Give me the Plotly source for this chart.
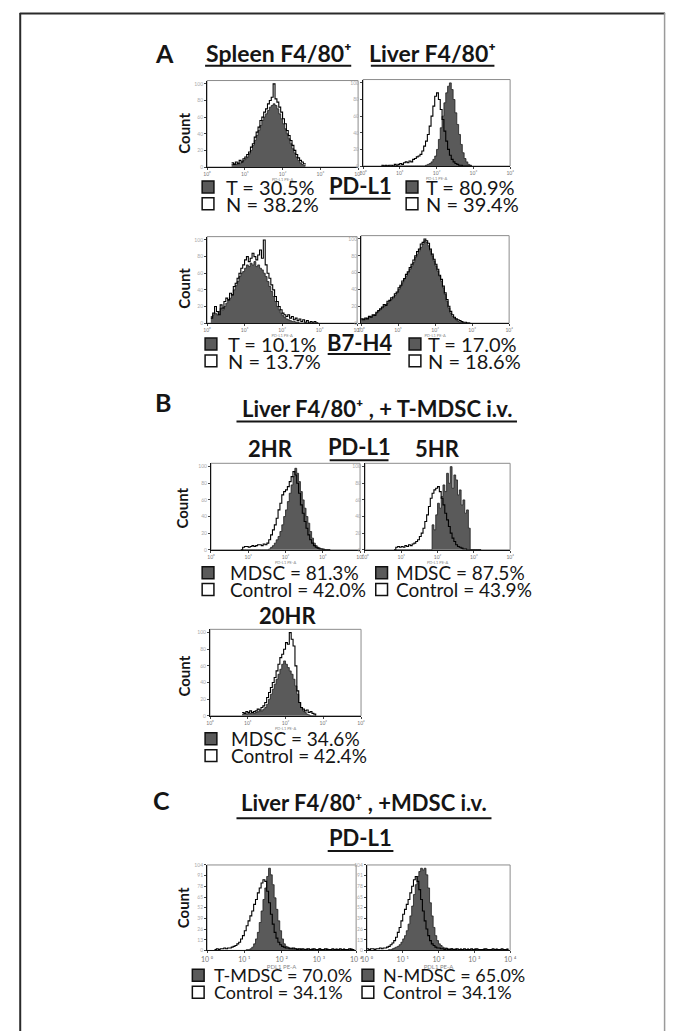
import plotly.graph_objects as go

W, H = 676, 1031
BIN = 0.05  # histogram channel width, log10 units

# ---------------- data (log10 fluorescence channels, counts) ----------------
# Panel A, PD-L1, spleen
A_SPL_PDL1_START = 0.65
A_SPL_PDL1_T = [3, 4, 3, 5, 4, 6, 8, 10, 12, 16,
                20, 26, 32, 38, 44, 50, 56, 60, 64, 68,
                72, 74, 76, 74, 70, 64, 58, 52, 46, 40,
                34, 28, 22, 17, 12, 8, 5, 3, 2, 1]
A_SPL_PDL1_N = [5, 3, 6, 4, 8, 6, 10, 12, 15, 18,
                24, 28, 36, 42, 48, 56, 60, 66, 70, 76,
                80, 84, 100, 82, 78, 72, 66, 58, 52, 44,
                38, 32, 26, 20, 15, 11, 8, 6, 4, 3]
# Panel A, PD-L1, liver
A_LIV_PDL1_START = 0.5
A_LIV_PDL1_T = [0, 0, 0, 0, 0, 0, 0, 0, 0, 0,
                0, 0, 0, 0, 0, 0, 0, 0, 0, 0,
                0, 0, 0, 0, 1, 2, 3, 5, 8, 12,
                20, 32, 46, 60, 76, 88, 96, 100, 92, 80,
                64, 50, 38, 26, 16, 9, 5, 2, 1, 0]
A_LIV_PDL1_N = [1, 0, 1, 0, 1, 1, 0, 2, 1, 2,
                3, 2, 4, 5, 4, 6, 5, 8, 9, 11,
                12, 14, 18, 24, 30, 38, 48, 60, 72, 84,
                88, 80, 68, 56, 42, 30, 20, 13, 8, 5,
                3, 2, 1, 1, 0, 0, 0, 0, 0, 0]
# Panel A, B7-H4, spleen
A_SPL_B7H4_START = 0.1
A_SPL_B7H4_T = [8, 10, 12, 10, 14, 18, 16, 20, 24, 28,
                30, 34, 40, 45, 50, 56, 60, 62, 66, 70,
                68, 72, 70, 74, 68, 70, 66, 64, 60, 56,
                50, 44, 38, 32, 26, 20, 16, 12, 9, 7,
                5, 4, 3, 2, 2, 1, 1, 0, 0, 0,
                0, 0, 0, 0, 0, 0, 0, 0]
A_SPL_B7H4_N = [6, 12, 20, 14, 10, 22, 18, 26, 30, 28,
                36, 34, 44, 48, 54, 60, 66, 70, 76, 80,
                74, 78, 84, 80, 76, 82, 88, 78, 100, 70,
                60, 54, 46, 40, 32, 26, 20, 16, 12, 10,
                8, 10, 6, 8, 4, 6, 3, 5, 2, 4,
                1, 3, 0, 2, 0, 2, 0, 1]
# Panel A, B7-H4, liver
A_LIV_B7H4_START = 0.0
A_LIV_B7H4_T = [4, 5, 5, 6, 7, 8, 9, 10, 12, 14,
                16, 18, 20, 22, 24, 26, 28, 30, 33, 36,
                40, 44, 48, 52, 56, 60, 64, 68, 72, 78,
                82, 86, 90, 94, 98, 96, 92, 86, 80, 74,
                68, 62, 56, 50, 42, 34, 26, 18, 12, 8,
                6, 4, 2, 1, 1, 0, 0, 0, 0, 0]
A_LIV_B7H4_N = [5, 4, 6, 5, 8, 7, 10, 9, 13, 15,
                17, 19, 22, 21, 26, 27, 30, 31, 35, 37,
                42, 45, 50, 53, 58, 61, 66, 70, 75, 80,
                85, 88, 94, 96, 100, 98, 95, 88, 82, 76,
                70, 64, 57, 52, 44, 36, 28, 20, 14, 10,
                7, 5, 4, 3, 2, 1, 1, 0, 0, 0]
# Panel B, PD-L1 after T-MDSC i.v.
B_2HR_START = 0.8
B_2HR_MDSC = [0, 0, 0, 0, 0, 0, 0, 0, 0, 0,
              0, 0, 0, 0, 0, 1, 3, 5, 8, 12,
              16, 22, 30, 40, 48, 58, 68, 78, 88, 98,
              92, 82, 70, 60, 50, 40, 32, 22, 14, 8,
              5, 3, 2, 1, 1, 0, 0, 0, 0]
B_2HR_CTRL = [0, 3, 4, 4, 3, 4, 5, 4, 5, 6,
              6, 5, 7, 6, 8, 12, 18, 24, 30, 38,
              48, 56, 66, 70, 72, 76, 82, 88, 94, 90,
              80, 68, 54, 44, 34, 26, 18, 12, 8, 5,
              3, 2, 1, 1, 0, 0, 0, 0, 0]
B_5HR_START = 0.8
B_5HR_MDSC = [0, 0, 0, 0, 0, 0, 0, 0, 0, 0,
              0, 0, 0, 0, 0, 0, 0, 0, 0, 0,
              0, 30, 24, 42, 56, 50, 64, 78, 70, 92,
              80, 100, 74, 90, 84, 66, 72, 54, 60, 44,
              48, 26, 0, 0, 0, 0, 0, 0, 0]
B_5HR_CTRL = [0, 3, 4, 3, 4, 3, 5, 4, 6, 5,
              7, 8, 10, 12, 16, 20, 26, 34, 42, 52,
              62, 68, 72, 74, 76, 70, 62, 54, 44, 36,
              28, 20, 14, 10, 6, 4, 3, 2, 1, 1,
              0, 0, 0, 0, 0, 0, 0, 0, 0]
B_20HR_START = 0.85
B_20HR_MDSC = [2, 3, 2, 3, 3, 4, 3, 4, 5, 6,
               6, 8, 10, 14, 20, 26, 32, 38, 44, 50,
               56, 62, 66, 62, 58, 54, 50, 44, 36, 26,
               16, 10, 6, 4, 2, 1, 0, 0, 0, 0]
B_20HR_CTRL = [4, 3, 5, 4, 6, 4, 5, 6, 8, 7,
               10, 12, 16, 22, 28, 34, 40, 46, 54, 62,
               70, 74, 80, 88, 86, 100, 92, 84, 60, 30,
               16, 10, 8, 6, 7, 4, 5, 3, 2, 0]
# Panel C, PD-L1 after MDSC i.v.
C_T_START = 0.2
C_T_MDSC = [0, 0, 0, 0, 0, 0, 0, 0, 0, 0,
            0, 0, 0, 0, 0, 0, 0, 1, 1, 2,
            4, 8, 14, 22, 34, 48, 62, 76, 90, 100,
            92, 80, 64, 50, 36, 24, 14, 8, 5, 4,
            3, 3, 2, 2, 2, 1, 2, 1, 1, 2,
            1, 1, 2, 1, 1, 1, 2, 1, 1, 1,
            2, 1, 1, 1, 1, 2, 1, 1, 1, 2,
            1, 1, 1, 2, 1, 1]
C_T_CTRL = [1, 2, 1, 2, 2, 3, 2, 3, 3, 4,
            5, 6, 8, 10, 14, 18, 24, 30, 36, 42,
            48, 56, 62, 70, 76, 82, 86, 84, 72, 58,
            44, 32, 22, 15, 10, 7, 5, 4, 3, 3,
            2, 2, 3, 2, 1, 2, 1, 2, 1, 1,
            2, 1, 1, 2, 1, 1, 2, 1, 1, 2,
            1, 1, 1, 2, 1, 1, 1, 2, 1, 1,
            1, 1, 2, 1, 1, 1]
C_N_START = 0.0
C_N_MDSC = [0, 0, 0, 0, 0, 0, 0, 0, 0, 0,
            0, 0, 1, 1, 2, 3, 4, 5, 7, 10,
            14, 18, 24, 32, 42, 54, 68, 80, 90, 96,
            100, 98, 100, 92, 76, 58, 42, 28, 18, 12,
            8, 6, 4, 3, 3, 2, 2, 2, 1, 2,
            1, 1, 2, 1, 1, 1, 2, 1, 1, 1,
            2, 1, 1, 1, 1, 2, 1, 1, 1, 1,
            1, 1, 2, 1, 1, 1, 1, 1, 2, 1]
C_N_CTRL = [2, 1, 2, 2, 1, 2, 2, 3, 2, 3,
            3, 4, 5, 7, 9, 12, 16, 22, 28, 36,
            44, 50, 56, 62, 70, 78, 86, 90, 84, 74,
            62, 48, 36, 26, 18, 12, 8, 6, 4, 3,
            3, 2, 2, 1, 2, 1, 1, 2, 1, 1,
            2, 1, 1, 1, 2, 1, 1, 1, 2, 1,
            1, 2, 1, 1, 1, 1, 2, 1, 1, 1,
            2, 1, 1, 1, 1, 2, 1, 1, 1, 1]

DECADES = [0, 1, 2, 3, 4]
DECADE_LABELS_SMALL = ["10⁰", "10¹", "10²", "10³", "10⁴"]
DECADE_LABELS_C = ["10 ⁰", "10 ¹", "10 ²", "10 ³", "10 ⁴"]
Y_TICKS = [0, 20, 40, 60, 80, 100]
Y_TICKS_C = [0, 13, 26, 39, 52, 65, 78, 91, 104]

LEGEND_TEXTS = {
    "p1": ("T = 30.5%", "N = 38.2%"),
    "p2": ("T = 80.9%", "N = 39.4%"),
    "p3": ("T = 10.1%", "N = 13.7%"),
    "p4": ("T = 17.0%", "N = 18.6%"),
    "p5": ("MDSC = 81.3%", "Control = 42.0%"),
    "p6": ("MDSC = 87.5%", "Control = 43.9%"),
    "p7": ("MDSC = 34.6%", "Control = 42.4%"),
    "p8": ("T-MDSC = 70.0%", "Control = 34.1%"),
    "p9": ("N-MDSC = 65.0%", "Control = 34.1%"),
}

# ---------------- layout geometry (pixels) ----------------
def px(x):
    return x / W


def py(y):
    return 1 - y / H


FONT = "Lato"
GREY_FILL = "#5a5a5a"

# key, plot box (x0,x1,y0,y1), start, filled, outline, style,
# legend square x, legend text x, legend row y1, row y2, legend font size
PANELS = [
    ("p1", (205, 359, 78, 165), A_SPL_PDL1_START, A_SPL_PDL1_T, A_SPL_PDL1_N, "s", 200, 222, 185, 202, 20),
    ("p2", (364, 514, 77, 164), A_LIV_PDL1_START, A_LIV_PDL1_T, A_LIV_PDL1_N, "s", 408, 426, 185, 202, 20),
    ("p3", (205, 358, 235, 322), A_SPL_B7H4_START, A_SPL_B7H4_T, A_SPL_B7H4_N, "s", 203, 224, 343, 360, 20),
    ("p4", (362, 513, 234, 322), A_LIV_B7H4_START, A_LIV_B7H4_T, A_LIV_B7H4_N, "s", 411, 428, 343, 360, 20),
    ("p5", (209, 361, 463, 550), B_2HR_START, B_2HR_MDSC, B_2HR_CTRL, "s", 200, 226, 573, 590, 19),
    ("p6", (366, 514, 463, 550), B_5HR_START, B_5HR_MDSC, B_5HR_CTRL, "s", 377, 396, 573, 590, 19),
    ("p7", (208, 362, 630, 717), B_20HR_START, B_20HR_MDSC, B_20HR_CTRL, "s", 203, 227, 740, 757, 19),
    ("p8", (205, 357, 867, 953), C_T_START, C_T_MDSC, C_T_CTRL, "c", 190, 210, 978, 995, 18),
    ("p9", (368, 514, 867, 953), C_N_START, C_N_MDSC, C_N_CTRL, "c", 363, 382, 978, 995, 18),
]

fig = go.Figure()
annotations = []
shapes = []
layout_axes = {}


def ann(text, x, y, size, bold=False, xanchor="center", angle=0, color="#151515"):
    if bold:
        text = "<b>" + text + "</b>"
    annotations.append(dict(
        text=text, x=px(x), y=py(y), xref="paper", yref="paper",
        xanchor=xanchor, yanchor="middle", showarrow=False, textangle=angle,
        font=dict(family=FONT, size=size, color=color)))


def underline(x0, x1, y):
    shapes.append(dict(type="line", xref="paper", yref="paper",
                       x0=px(x0), x1=px(x1), y0=py(y), y1=py(y),
                       line=dict(color="#151515", width=2)))


for i, (key, box, start, filled, outline, style, sqx, tx, ly1, ly2, lfs) in enumerate(PANELS, start=1):
    xs_f = [start + k * BIN for k in range(len(filled))]
    xs_o = [start + k * BIN for k in range(len(outline))]
    xa = "x" if i == 1 else f"x{i}"
    ya = "y" if i == 1 else f"y{i}"
    fig.add_trace(go.Scatter(
        x=xs_f, y=filled, xaxis=xa, yaxis=ya, mode="lines",
        line=dict(shape="hv", color="#1e1e1e", width=0.8),
        fill="tozeroy", fillcolor=GREY_FILL, hoverinfo="skip", showlegend=False))
    fig.add_trace(go.Scatter(
        x=xs_o, y=outline, xaxis=xa, yaxis=ya, mode="lines",
        line=dict(shape="hv", color="#000000", width=1.1),
        hoverinfo="skip", showlegend=False))

    x0, x1, y0, y1 = box
    if style == "c":
        ticktext, tfs, xtitle, ttfs, yticks, yfs = DECADE_LABELS_C, 7, "PDL1 PE-A", 6, Y_TICKS_C, 5
    else:
        ticktext, tfs, xtitle, ttfs, yticks, yfs = DECADE_LABELS_SMALL, 5, "PD-L1 PE-A", 4, Y_TICKS, 5
    layout_axes["xaxis" if i == 1 else f"xaxis{i}"] = dict(
        domain=[px(x0), px(x1)], range=[0, 4], anchor=ya,
        showline=True, linecolor="#111", linewidth=1, mirror=False,
        showgrid=False, zeroline=False, ticks="outside", ticklen=2,
        tickwidth=0.6, tickcolor="#444", tickvals=DECADES, ticktext=ticktext,
        tickfont=dict(family=FONT, size=tfs, color="#777"),
        title=dict(text=xtitle, font=dict(family=FONT, size=ttfs, color="#888"), standoff=1),
        fixedrange=True)
    layout_axes["yaxis" if i == 1 else f"yaxis{i}"] = dict(
        domain=[py(y1), py(y0)], range=[0, 104], anchor=xa,
        showline=True, linecolor="#111", linewidth=1, mirror=False,
        showgrid=False, zeroline=False, ticks="outside", ticklen=2,
        tickwidth=0.6, tickcolor="#444", tickvals=yticks,
        tickfont=dict(family=FONT, size=yfs, color="#aaa"), fixedrange=True)
    shapes.append(dict(type="rect", xref=f"{xa} domain", yref=f"{ya} domain",
                       x0=0, x1=1, y0=0, y1=1, layer="below",
                       line=dict(color="#8c8c8c", width=1)))

    # legend squares
    for (ly, fillc) in ((ly1, GREY_FILL), (ly2, "#ffffff")):
        shapes.append(dict(type="rect", xref="paper", yref="paper",
                           x0=px(sqx), x1=px(sqx + 12), y0=py(ly + 6), y1=py(ly - 6),
                           fillcolor=fillc, line=dict(color="#111", width=1.5)))
    t1, t2 = LEGEND_TEXTS[key]
    ann(t1, tx, ly1, lfs, xanchor="left")
    ann(t2, tx, ly2, lfs, xanchor="left")

# "Count" labels
for (cx, cy) in ((182, 131), (182, 287), (180, 508), (182, 677), (180, 910)):
    ann("Count", cx, cy, 15, bold=True, angle=-90)

# Panel letters, titles and their underlines
ann("A", 162, 50, 25, bold=True)
ann("Spleen F4/80⁺", 278, 50, 23, bold=True)
underline(203, 352, 63)
ann("Liver F4/80⁺", 435, 50, 23, bold=True)
underline(372, 498, 63)
ann("PD-L1", 361, 184, 22, bold=True)
underline(330, 392, 197)
ann("B7-H4", 360, 341, 22, bold=True)
underline(328, 392, 353)

ann("B", 160, 401, 25, bold=True)
ann("Liver F4/80⁺ , + T-MDSC i.v.", 378, 408, 22, bold=True)
underline(235, 521, 421)
ann("2HR", 270, 448, 22, bold=True)
ann("PD-L1", 360, 446, 22, bold=True)
underline(330, 390, 460)
ann("5HR", 440, 448, 22, bold=True)
ann("20HR", 287, 616, 22, bold=True)

ann("C", 159, 802, 25, bold=True)
ann("Liver F4/80⁺ , +MDSC i.v.", 365, 804, 22, bold=True)
underline(235, 495, 820)
ann("PD-L1", 361, 839, 22, bold=True)
underline(328, 395, 853)

# outer frame
shapes.append(dict(type="line", xref="paper", yref="paper", x0=px(14.5), x1=px(14.5),
                   y0=py(10), y1=py(1040), line=dict(color="#2a2a2a", width=2)))
shapes.append(dict(type="line", xref="paper", yref="paper", x0=px(14), x1=px(672),
                   y0=py(10.5), y1=py(10.5), line=dict(color="#2a2a2a", width=2)))
shapes.append(dict(type="line", xref="paper", yref="paper", x0=px(671.5), x1=px(671.5),
                   y0=py(10), y1=py(1040), line=dict(color="#9a9a9a", width=1.5)))

fig.update_layout(
    width=W, height=H, margin=dict(l=0, r=0, t=0, b=0),
    paper_bgcolor="white", plot_bgcolor="white",
    showlegend=False, annotations=annotations, shapes=shapes,
    font=dict(family=FONT), **layout_axes)

fig.write_html("out.html", config={"displayModeBar": False},
               post_script="document.body.style.margin='0';document.body.style.overflow='hidden';")
